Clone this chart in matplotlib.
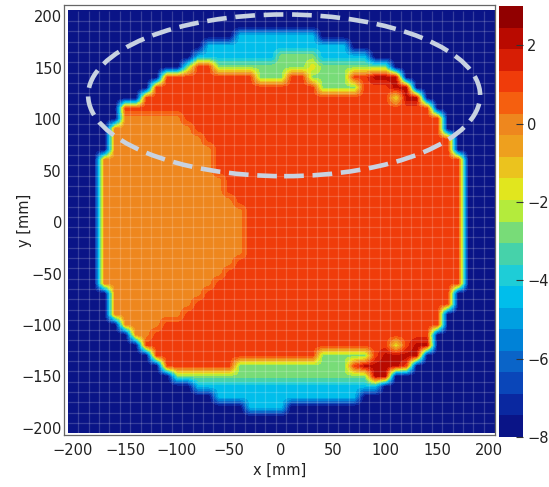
import numpy as np
import matplotlib
matplotlib.use("Agg")
import matplotlib.pyplot as plt
from matplotlib.path import Path
from matplotlib.colors import BoundaryNorm, ListedColormap
from matplotlib.patches import Ellipse
import matplotlib.cm as cm

# scan grid (mm)
grid_x = np.arange(-200, 201, 10)
grid_y = np.arange(-200, 201, 10)

# colour scale: 20 bands from -8 to 3
levels = np.linspace(-8, 3, 21)
cbar_ticks = [-8, -6, -4, -2, 0, 2]
band_colors = ["#0a1487", "#0a28a0", "#0a46b9", "#0a64c8", "#0082d7", "#00a0e1",
               "#00beeb", "#1ecdd7", "#46d2aa", "#78dc78", "#b4eb3c", "#e1e61e",
               "#ebc31e", "#eea01e", "#ee871e", "#f55f0f", "#f03c0a", "#d71e05",
               "#b90a00", "#910000"]

# level of each zone
val_outside = -8.0
val_fringe = -4.4
val_green = -2.7
val_main = 1.1
val_left = 0.0
val_hot = 2.2
val_spot = -1.6

# outer edge of the measured area
edge_x = [-6, 11, 36, 59, 74, 90, 107, 122, 139, 151, 155, 164, 174, 177, 174, 170, 164,
          158, 151, 139, 122, 100, 90, 74, 36, -6, -39, -56, -65, -85, -100, -110, -126,
          -142, -155, -162, -167, -174, -177, -177, -169, -164, -162, -157, -152, -136,
          -123, -114, -104, -90, -78, -62, -46, -27]
edge_y = [185, 184, 180, 174, 167, 160, 151, 138, 121, 106, 92, 80, 48, -22, -42, -61, -74,
          -90, -103, -122, -139, -155, -161, -170, -175, -181, -180, -178, -171, -161, -153,
          -146, -129, -113, -100, -87, -68, -59, -54, 60, 65, 80, 89, 101, 109, 118, 135,
          141, 146, 157, 167, 175, 180, 184]

# main plateau (top edge, right side, bottom edge)
main_x = [-220, -136, -116, -110, -71, -62, -46, -37, -27, -6, 14, 26, 36, 52, 70, 80, 79,
          68, 64, 74, 90, 110, 220, 220, 110, 86, 66, 62, 68, 81, 84, 62, 42, 38, 36, -43,
          -47, -107, -116, -220]
main_y = [118, 118, 138, 143, 155, 148, 146, 148, 141, 136, 143, 138, 130, 126, 126, 128,
          131, 133, 141, 146, 145, 138, 140, -150, -150, -149, -146, -138, -132, -134, -126,
          -124, -124, -129, -136, -136, -146, -147, -142, -141]

# lower plateau on the left
left_x = [-220, -157, -136, -123, -114, -107, -100, -90, -85, -78, -71, -62, -52, -46, -39,
          -33, -34, -39, -46, -52, -62, -78, -90, -110, -119, -129, -136, -220]
left_y = [101, 101, 109, 104, 101, 107, 106, 92, 86, 89, 77, 53, 34, 21, 15, -5, -22, -29,
          -39, -49, -61, -78, -90, -100, -107, -110, -113, -113]

# green bands above and below the plateau
green_top_x = [-220, -100, -78, -46, -6, 36, 62, 76, 100, 220, 220, -220]
green_top_y = [150, 150, 157, 159, 160, 160, 157, 154, 150, 150, 0, 0]
green_bot_x = [-220, -100, -47, -6, 36, 62, 90, 220, 220, -220]
green_bot_y = [-146, -150, -151, -152, -153, -152, -152, -152, 0, 0]

# hot corners on the right
hot_top_x = [88, 107, 124, 140, 136, 129, 116, 100, 88]
hot_top_y = [145, 145, 138, 122, 118, 116, 121, 135, 140]
hot_bot_x = [74, 100, 124, 140, 129, 110, 90, 78]
hot_bot_y = [-147, -152, -137, -120, -118, -124, -132, -139]

# isolated low points
spot_x = [107, 107, 35]
spot_y = [120, -118, 152]

# marked region
ring_center = (3, 123)
ring_width = 377
ring_height = 157

gx, gy = np.meshgrid(grid_x, grid_y)
pts = np.column_stack([gx.ravel(), gy.ravel()])


def inside(xs, ys):
    return Path(np.column_stack([xs, ys])).contains_points(pts).reshape(gx.shape)


field = np.full(gx.shape, val_fringe)
field[inside(green_top_x, green_top_y)] = val_green
field[inside(green_bot_x, green_bot_y)] = val_green
plateau = inside(main_x, main_y)
field[plateau] = val_main
field[plateau & inside(left_x, left_y)] = val_left
field[inside(hot_top_x, hot_top_y)] = val_hot
field[inside(hot_bot_x, hot_bot_y)] = val_hot
for sx, sy in zip(spot_x, spot_y):
    field[np.abs(grid_y - sy).argmin(), np.abs(grid_x - sx).argmin()] = val_spot
field[~inside(edge_x, edge_y)] = val_outside

cmap = ListedColormap(band_colors)
norm = BoundaryNorm(levels, cmap.N)

fig = plt.figure(figsize=(5.49, 4.87), dpi=100)
ax = fig.add_axes([64 / 549, 1 - 435 / 487, 431 / 549, 430 / 487])
cax = fig.add_axes([499 / 549, 1 - 437 / 487, 24 / 549, 431 / 487])

half = 205
ax.imshow(field, origin="lower", extent=[-half, half, -half, half], cmap=cmap, norm=norm,
          interpolation="bilinear", interpolation_stage="data", aspect="auto")

# faint cell borders
cell_edges = np.arange(-195, 200, 10)
ax.vlines(cell_edges, -half, half, colors="white", alpha=0.18, lw=0.9)
ax.hlines(cell_edges, -half, half, colors="white", alpha=0.18, lw=0.9)

ax.add_patch(Ellipse(ring_center, ring_width, ring_height, fill=False,
                     edgecolor="#c8d2e1", lw=3.3, linestyle=(0, (4.3, 1.9)), zorder=5))

ax.set_xlim(-208.7, 205.8)
ax.set_ylim(-206.8, 210.7)
ax.set_xticks(np.arange(-200, 201, 50))
ax.set_yticks(np.arange(-200, 201, 50))
ax.tick_params(length=0, labelsize=10.5, labelcolor="#222222")
ax.tick_params(axis="x", pad=6)
ax.tick_params(axis="y", pad=1.5)
for s in ax.spines.values():
    s.set_color("#666666")
    s.set_linewidth(0.9)
ax.set_xlabel("x [mm]", fontsize=10.5, color="#222222", labelpad=3)
ax.set_ylabel("y [mm]", fontsize=10.5, color="#222222")
ax.yaxis.set_label_coords(-0.074, 0.5)

cb = fig.colorbar(cm.ScalarMappable(norm=norm, cmap=cmap), cax=cax,
                  boundaries=levels, ticks=cbar_ticks)
cb.minorticks_off()
cb.outline.set_visible(False)
cax.tick_params(direction="in", length=5, width=0.8, color="#333333",
                labelsize=10.5, labelcolor="#222222", pad=3)

fig.savefig("out.png", dpi=100)
